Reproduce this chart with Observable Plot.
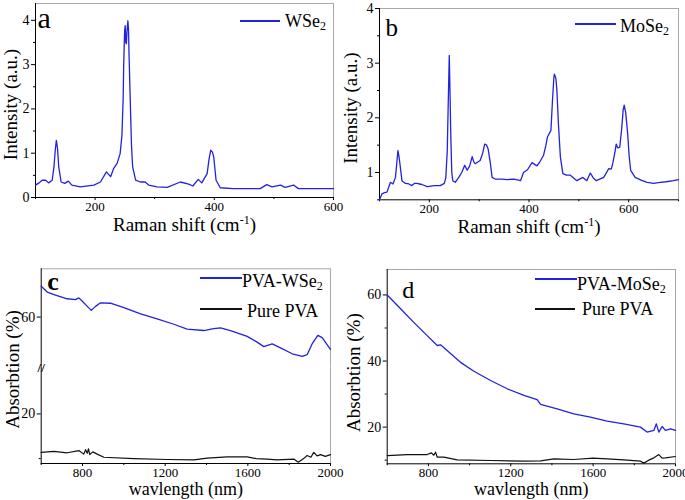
<!DOCTYPE html>
<html><head><meta charset="utf-8">
<script src="https://cdn.jsdelivr.net/npm/d3@7"></script>
<script src="https://cdn.jsdelivr.net/npm/@observablehq/plot@0.6"></script>
<style>
body{margin:0;background:#fff;}
#root{position:relative;width:685px;height:500px;overflow:hidden;font-family:"Liberation Serif","Times New Roman",serif;color:#000;}
#root svg text{font-family:"Liberation Serif","Times New Roman",serif !important;}
.lg-line{position:absolute;height:2px;}
.lg-text{position:absolute;font-size:18px;line-height:1;white-space:nowrap;}
.lg-text sub{font-size:12px;vertical-align:-3px;line-height:0;}
</style></head><body><div id="root"></div>
<script>
// ---------- data ----------
const wse2Raman = [[100,0.28],[106,0.33],[111,0.39],[117,0.39],[122,0.33],[128,0.39],[131,0.69],[133,1.05],[135,1.29],[137,1.1],[139,0.69],[143,0.35],[149,0.32],[155,0.37],[161,0.28],[175,0.24],[198,0.28],[209,0.35],[219,0.58],[226,0.47],[231,0.65],[237,0.77],[242,0.99],[245,1.4],[247,2.19],[248,3.0],[249.5,3.75],[250.5,3.88],[251.5,3.5],[252.5,3.47],[253.5,3.75],[255,3.99],[256,3.8],[257,3.2],[259,2.19],[261,1.2],[263,0.69],[268,0.39],[276,0.35],[284,0.35],[290,0.28],[304,0.24],[321,0.23],[343,0.35],[357,0.3],[364,0.26],[373,0.41],[379,0.33],[388,0.54],[391,0.85],[394,1.07],[397,1.02],[399,0.92],[403,0.39],[410,0.22],[432,0.2],[477,0.2],[488,0.29],[497,0.24],[511,0.28],[519,0.23],[533,0.28],[541,0.2],[572,0.2],[600,0.2]];
const mose2Raman = [[100,0.5],[105,0.61],[110,0.63],[115,0.64],[122,0.82],[127,0.79],[132,0.91],[135,1.2],[137,1.4],[139,1.3],[141,1.16],[145,0.85],[152,0.8],[159,0.79],[165,0.76],[170,0.8],[175,0.8],[185,0.78],[196,0.74],[210,0.76],[222,0.76],[230,0.8],[233,0.9],[236,1.4],[238,2.3],[240,3.14],[241,2.7],[243,1.71],[245,1.0],[247,0.85],[252,0.82],[259,0.91],[265,1.0],[271,1.13],[276,1.04],[281,1.12],[286,1.29],[289,1.2],[292,1.16],[302,1.22],[307,1.35],[311,1.52],[315,1.5],[318,1.43],[322,1.2],[326,0.91],[332,0.88],[345,0.88],[356,0.87],[370,0.88],[383,0.85],[389,1.0],[397,1.05],[406,1.18],[416,1.12],[422,1.2],[429,1.31],[434,1.5],[437,1.65],[444,1.77],[447,2.3],[450,2.75],[451,2.8],[454,2.72],[456,2.5],[459,1.9],[463,1.28],[468,0.98],[475,0.95],[483,0.95],[496,0.85],[508,0.91],[516,0.85],[523,0.99],[529,0.9],[535,0.85],[550,0.91],[560,1.07],[565,1.06],[568,1.16],[573,1.4],[575,1.52],[578,1.45],[582,1.46],[586,1.8],[589,2.15],[591,2.23],[594,2.1],[598,1.71],[601,1.3],[604,1.04],[613,0.91],[625,0.86],[637,0.82],[650,0.8],[663,0.82],[675,0.83],[690,0.85],[700,0.87]];
const pvaWse2Abs = [[600,66.9],[629,65.6],[669,64.9],[726,64.1],[766,63.9],[782,64.3],[798,63.6],[823,62.4],[842,61.5],[863,62.4],[887,63.2],[935,63.1],[1000,62.1],[1081,60.7],[1161,59.6],[1242,58.4],[1306,57.3],[1387,57.0],[1435,57.4],[1468,57.6],[1516,57.0],[1597,55.7],[1645,54.4],[1677,53.4],[1718,54.0],[1758,53.1],[1815,51.8],[1863,51.2],[1887,51.6],[1911,54.0],[1939,55.9],[1960,55.4],[1981,54.0],[2000,52.8]];
const purePvaAbsC = [[600,11.4],[661,11.6],[726,11.3],[782,11.8],[806,11.0],[815,12.0],[823,11.2],[829,12.2],[835,10.9],[850,11.5],[871,11.0],[903,10.3],[1048,10.0],[1210,9.8],[1339,9.7],[1403,10.1],[1500,10.4],[1597,10.4],[1640,10.0],[1694,9.9],[1742,9.7],[1823,9.9],[1844,9.2],[1870,10.0],[1887,10.7],[1905,10.3],[1919,11.4],[1935,10.6],[1952,10.9],[1975,10.5],[2000,10.9]];
const pvaMose2Abs = [[600,60],[665,55.8],[729,51.7],[794,47.7],[843,44.7],[859,44.9],[891,43.2],[956,39.6],[1021,36.9],[1102,34.1],[1183,31.6],[1264,29.6],[1328,28.3],[1345,26.9],[1425,25.5],[1506,24.0],[1587,23.0],[1668,21.8],[1749,21.0],[1830,20.0],[1862,18.5],[1895,19.0],[1907,21.0],[1919,18.5],[1935,20.2],[1951,19.0],[1976,19.5],[2000,19.0]];
const purePvaAbsD = [[600,11.4],[697,11.7],[794,11.7],[815,12.2],[826,11.5],[835,12.4],[843,10.9],[875,10.9],[940,10.1],[1102,9.9],[1264,9.7],[1345,9.8],[1409,10.4],[1506,10.2],[1600,10.6],[1668,10.4],[1749,10.1],[1830,9.7],[1846,9.1],[1870,10.0],[1895,10.7],[1919,11.7],[1935,10.6],[1951,10.7],[2000,11.1]];

const ramanTicks = [200, 400, 600];
const ramanMinorA = [100, 300, 500];
const ramanMinorB = [100, 300, 500, 700];
const intensityTicksA = [0, 1, 2, 3, 4];
const intensityMinorA = [0.5, 1.5, 2.5, 3.5];
const intensityTicksB = [1, 2, 3, 4];
const intensityMinorB = [0.5, 1.5, 2.5, 3.5];
const wlTicks = [800, 1200, 1600, 2000];
const wlMinor = [600, 1000, 1400, 1800];
const absTicksCUpper = [60];
const absTicksCLower = [20];
const absMinorCLower = [10];
const absTicksD = [20, 40, 60];
const absMinorD = [10, 30, 50];
const absDomainCUpper = [48.8, 70.8];   // upper part of broken axis
const absDomainCLower = [8.9, 30.4];    // lower part of broken axis

const BLUE = "#2222e0";
const BLACK = "#111";
const FONT = "Liberation Serif";

function makePanel(o) {
  const marks = [];
  marks.push(Plot.ruleX([o.xDomain[1]], {stroke: "#a8a8a8"}));
  if (o.top !== false) marks.push(Plot.ruleY([o.yDomain[1]], {stroke: "#a8a8a8"}));
  marks.push(Plot.ruleX([o.xDomain[0]], {stroke: "#000"}));
  if (o.bottom !== false) {
    marks.push(Plot.ruleY([o.yDomain[0]], {stroke: "#000"}));
    marks.push(Plot.axisX({ticks: o.xTicks, tickSize: 3, tickPadding: 1, tickFormat: d => String(d), label: null, fontFamily: FONT, fontSize: 13}));
    marks.push(Plot.axisX({ticks: o.xMinor, tickSize: 2, text: null, label: null}));
  }
  marks.push(Plot.axisY({ticks: o.yTicks, tickSize: 4, tickPadding: 2, tickFormat: d => String(d), label: null, fontFamily: FONT, fontSize: 14}));
  if (o.yMinor && o.yMinor.length) marks.push(Plot.axisY({ticks: o.yMinor, tickSize: 2, text: null, label: null}));
  for (const s of o.series) marks.push(Plot.line(s.data, {x: d => d[0], y: d => d[1], stroke: s.color, strokeWidth: s.width || 1.3}));
  if (o.xTitle) marks.push(Plot.text([o.xTitle], {text: d => d, frameAnchor: "bottom", textAnchor: "middle", dy: o.xTitleDy, lineAnchor: "bottom", fontSize: o.xTitleSize || 19, fontFamily: FONT}));
  if (o.yTitle) marks.push(Plot.text([o.yTitle], {text: d => d, frameAnchor: "left", textAnchor: "middle", rotate: -90, dx: o.yTitleDx, dy: o.yTitleDy, lineAnchor: "bottom", fontSize: 19, fontFamily: FONT}));
  if (o.letter) marks.push(Plot.text([o.letter], {text: d => d, frameAnchor: "top-left", textAnchor: "start", dx: o.letterDx, dy: o.letterDy, lineAnchor: "bottom", fontSize: o.letterSize, fontWeight: o.letterWeight || "normal", fontFamily: FONT}));
  if (o.extra) marks.push(...o.extra);
  const svg = Plot.plot({
    width: o.width, height: o.height,
    marginLeft: o.ml, marginRight: o.mr, marginTop: o.mt, marginBottom: o.mb,
    style: {fontFamily: FONT, fontSize: "14px", background: "transparent", overflow: "visible", color: "#000"},
    x: o.bottom === false ? {domain: o.xDomain, axis: null} : {domain: o.xDomain},
    y: {domain: o.yDomain},
    marks
  });
  svg.style.position = "absolute";
  svg.style.left = o.left + "px";
  svg.style.top = o.topPx + "px";
  svg.style.maxWidth = "none";
  svg.querySelectorAll("text").forEach(t => {
    if (t.textContent === "Raman shift (cm-1)") {
      const ns = "http://www.w3.org/2000/svg";
      t.textContent = "Raman shift (cm";
      const s = document.createElementNS(ns, "tspan");
      s.setAttribute("dy", "-7"); s.setAttribute("font-size", "12"); s.textContent = "-1";
      const e = document.createElementNS(ns, "tspan");
      e.setAttribute("dy", "7"); e.textContent = ")";
      t.appendChild(s); t.appendChild(e);
    }
  });
  return svg;
}

const root = document.getElementById("root");

// a
root.appendChild(makePanel({
  left: 0, topPx: 0, width: 340, height: 250, ml: 35, mr: 7, mt: 3, mb: 53,
  xDomain: [100, 600], yDomain: [0, 4.38],
  xTicks: ramanTicks, xMinor: ramanMinorA, yTicks: intensityTicksA, yMinor: intensityMinorA,
  series: [{data: wse2Raman, color: BLUE}],
  xTitle: "Raman shift (cm-1)", xTitleDy: 33.5,
  yTitle: "Intensity (a.u.)", yTitleDx: -19, yTitleDy: 4,
  letter: "a", letterDx: 2, letterDy: 24, letterSize: 30
}));

// b
root.appendChild(makePanel({
  left: 340, topPx: 0, width: 345, height: 250, ml: 39, mr: 7, mt: 8, mb: 50.7,
  xDomain: [100, 700], yDomain: [0.5, 4],
  xTicks: ramanTicks, xMinor: ramanMinorB, yTicks: intensityTicksB, yMinor: intensityMinorB,
  series: [{data: mose2Raman, color: BLUE}],
  xTitle: "Raman shift (cm-1)", xTitleDy: 33.5,
  yTitle: "Intensity (a.u.)", yTitleDx: -23, yTitleDy: 4,
  letter: "b", letterDx: 6, letterDy: 27, letterSize: 25
}));

// c (broken y axis: upper part)
root.appendChild(makePanel({
  left: 0, topPx: 250, width: 340, height: 116.7, ml: 40.7, mr: 10, mt: 18.3, mb: 0,
  bottom: false,
  xDomain: [600, 2000], yDomain: absDomainCUpper,
  yTicks: absTicksCUpper, yMinor: [],
  series: [{data: pvaWse2Abs, color: BLUE}],
  letter: "c", letterDx: 6, letterDy: 21, letterSize: 26, letterWeight: "bold"
}));
// c (lower part)
root.appendChild(makePanel({
  left: 0, topPx: 366.7, width: 340, height: 133.3, ml: 40.7, mr: 10, mt: 0, mb: 37.3,
  top: false,
  xDomain: [600, 2000], yDomain: absDomainCLower,
  xTicks: wlTicks, xMinor: wlMinor, yTicks: absTicksCLower, yMinor: absMinorCLower,
  series: [{data: purePvaAbsC, color: BLACK, width: 1.2}],
  xTitle: "wavlength (nm)", xTitleDy: 32, xTitleSize: 18,
  yTitle: "Absorbtion (%)", yTitleDx: -22, yTitleDy: -46,
  extra: [Plot.text([absDomainCLower[1]], {x: () => 600, y: d => d, text: () => "//", fontSize: 13, fontWeight: "bold", fontFamily: FONT})]
}));

// d
root.appendChild(makePanel({
  left: 340, topPx: 250, width: 345, height: 250, ml: 46.7, mr: 10, mt: 19, mb: 36.7,
  xDomain: [600, 2000], yDomain: [8.9, 67.7],
  xTicks: wlTicks, xMinor: wlMinor, yTicks: absTicksD, yMinor: absMinorD,
  series: [{data: pvaMose2Abs, color: BLUE}, {data: purePvaAbsD, color: BLACK, width: 1.2}],
  xTitle: "wavlength (nm)", xTitleDy: 31.5, xTitleSize: 18,
  yTitle: "Absorbtion (%)", yTitleDx: -27, yTitleDy: 6,
  letter: "d", letterDx: 15, letterDy: 28, letterSize: 24
}));

// ---------- legends ----------
const legends = [
  {x: 240, y: 20, w: 40, color: BLUE, tx: 285, ty: 12, html: "WSe<sub>2</sub>"},
  {x: 575, y: 23, w: 41, color: BLUE, tx: 620, ty: 17, html: "MoSe<sub>2</sub>"},
  {x: 200, y: 277, w: 42, color: BLUE, tx: 242, ty: 272, html: "PVA-WSe<sub>2</sub>"},
  {x: 200, y: 308, w: 42, color: BLACK, tx: 247, ty: 302, html: "Pure PVA"},
  {x: 535, y: 278, w: 42, color: BLUE, tx: 577, ty: 275, html: "PVA-MoSe<sub>2</sub>"},
  {x: 535, y: 308, w: 40, color: BLACK, tx: 582, ty: 300, html: "Pure PVA"}
];
for (const l of legends) {
  const ln = document.createElement("div");
  ln.className = "lg-line";
  ln.style.left = l.x + "px"; ln.style.top = l.y + "px"; ln.style.width = l.w + "px";
  ln.style.background = l.color;
  root.appendChild(ln);
  const tx = document.createElement("div");
  tx.className = "lg-text";
  tx.style.left = l.tx + "px"; tx.style.top = l.ty + "px";
  tx.innerHTML = l.html;
  root.appendChild(tx);
}
</script>
</body></html>
